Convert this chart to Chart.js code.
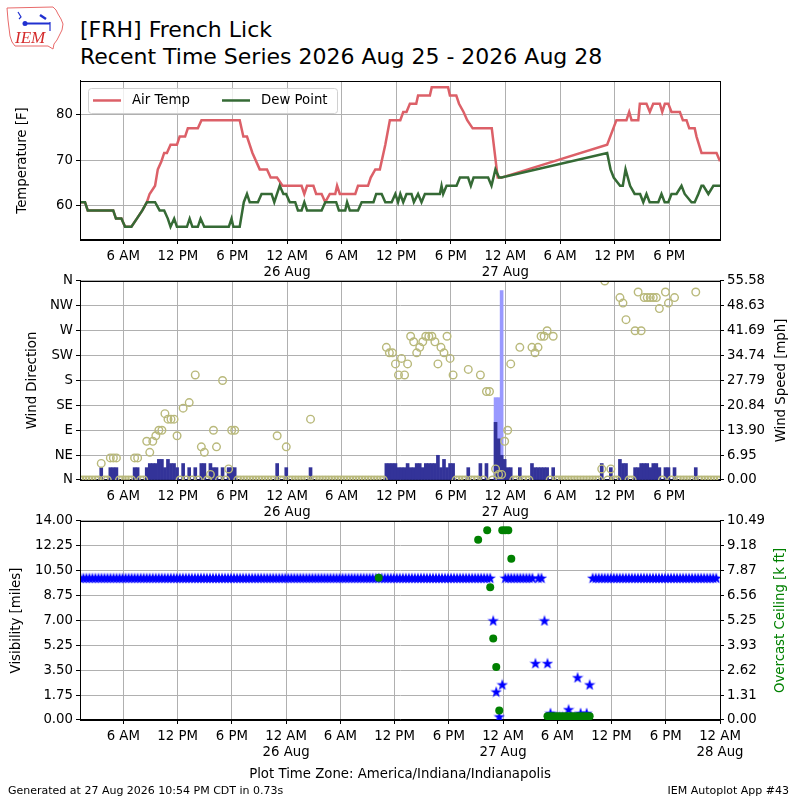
<!DOCTYPE html>
<html>
<head>
<meta charset="utf-8">
<title>FRH recent time series</title>
<script src="https://cdn.jsdelivr.net/npm/chart.js@4.4.1/dist/chart.umd.min.js"></script>
<style>
  html, body { margin: 0; padding: 0; background: #fff; }
  body { width: 800px; height: 800px; position: relative; overflow: hidden; font-family: 'DejaVu Sans', sans-serif; color: #000; }
  canvas.panel { position: absolute; left: 0; }
  .txt { position: absolute; white-space: nowrap; }
</style>
</head>
<body>
<canvas id="logo" width="70" height="56" style="position:absolute;left:0;top:0"></canvas>
<div class="txt" style="left:80px;top:19px;font-size:22px;line-height:22px">[FRH] French Lick</div>
<div class="txt" style="left:80px;top:46px;font-size:22px;line-height:22px">Recent Time Series 2026 Aug 25 - 2026 Aug 28</div>
<canvas class="panel" id="tempChart" width="800" height="210" style="top:70px"></canvas>
<canvas class="panel" id="windChart" width="800" height="250" style="top:270px"></canvas>
<canvas class="panel" id="visChart" width="800" height="250" style="top:510px"></canvas>
<div class="txt" style="left:0;width:800px;text-align:center;top:767px;font-size:13.3px;line-height:13.3px">Plot Time Zone: America/Indiana/Indianapolis</div>
<div class="txt" style="left:8px;top:785px;font-size:11px;line-height:11px">Generated at 27 Aug 2026 10:54 PM CDT in 0.73s</div>
<div class="txt" style="right:11px;top:785px;font-size:11px;line-height:11px">IEM Autoplot App #43</div>
<script>
// hours are counted from 25 Aug 2026 00:00 local time
const airTemp = [
  [1.25,60.8],[1.8,60.8],[2.1,59],[4.9,59],[5.2,57.2],[5.8,57.2],[6.2,55.4],[6.9,55.4],[7.5,57.2],[8.1,59],
  [8.6,60.8],[8.9,62.6],[9.5,64.4],[9.8,68],[10.2,69.8],[10.5,71.6],[10.8,71.6],[11.2,73.4],[11.9,73.4],[12.2,75.2],
  [12.8,75.2],[13.1,77],[14.2,77],[14.6,78.8],[18.8,78.8],[19.2,75.2],[19.6,75.2],[20.2,71.6],[21.0,68],[21.8,68],
  [22.2,66.2],[22.9,66.2],[23.5,64.4],[25.6,64.4],[25.9,62.6],[26.2,64.4],[26.9,64.4],[27.2,62.6],[27.8,62.6],[28.2,60.8],
  [28.7,62.6],[29.3,62.6],[29.5,64.4],[29.8,62.6],[31.5,62.6],[31.8,64.4],[32.9,64.4],[33.2,66.2],[33.7,68],[34.2,68],
  [34.8,73.4],[35.3,78.8],[36.45,78.8],[36.77,80.6],[37.13,80.6],[37.5,82.4],[38.2,82.4],[38.4,84.2],[39.7,84.2],[39.9,86],
  [41.7,86],[41.9,84.2],[42.6,84.2],[42.9,82.4],[43.4,80.6],[43.8,78.8],[44.4,77],[46.5,77],[47.15,66.2],[47.57,66.2],
  [59.18,73.4],[60.2,78.8],[61.3,78.8],[61.6,80.6],[61.86,78.8],[62.6,78.8],[62.77,82.4],[63.5,82.4],[63.87,80.6],[64.24,82.4],
  [64.97,82.4],[65.23,80.6],[65.52,82.4],[65.9,82.4],[66.25,80.6],[67.17,80.6],[67.5,78.8],[67.9,78.8],[68.2,77],[68.8,77],
  [69.0,75.2],[69.55,71.6],[71.2,71.6],[71.58,69.8]
];
const dewPoint = [
  [1.25,60.8],[1.8,60.8],[2.1,59],[4.9,59],[5.2,57.2],[5.8,57.2],[6.2,55.4],[6.9,55.4],[7.5,57.2],[8.1,59],
  [8.6,60.8],[9.5,60.8],[10.0,59],[10.5,59],[10.9,57.2],[11.2,55.4],[11.6,57.2],[11.9,55.4],[13.0,55.4],[13.3,57.2],
  [13.6,55.4],[14.2,55.4],[14.5,57.2],[14.9,55.4],[17.6,55.4],[17.9,57.2],[18.1,55.4],[18.8,55.4],[19.25,60.8],[19.6,62.6],
  [19.9,60.8],[20.8,60.8],[21.2,62.6],[22.3,62.6],[22.6,60.8],[22.9,62.6],[23.2,64.4],[23.6,62.6],[23.9,62.6],[24.3,60.8],
  [24.9,60.8],[25.2,59],[25.6,59],[25.9,60.8],[26.2,59],[27.8,59],[28.2,60.8],[29.4,60.8],[29.7,59],[30.4,59],
  [30.6,60.8],[30.9,59],[31.8,59],[32.2,60.8],[33.5,60.8],[33.8,62.6],[34.4,62.6],[34.8,60.8],[35.5,60.8],[35.9,62.6],
  [36.2,60.8],[36.45,62.6],[36.77,60.8],[37.13,62.6],[37.68,62.6],[37.94,60.8],[38.4,62.6],[38.78,60.8],[39.15,62.6],[40.8,62.6],
  [40.98,64.4],[41.16,62.6],[41.53,64.4],[42.63,64.4],[43.0,66.2],[43.9,66.2],[44.2,64.4],[44.5,66.2],[46.1,66.2],[46.47,64.4],
  [46.9,68],[47.3,66.2],[47.57,66.2],
  [59.18,71.6],[59.55,68],[59.9,66.2],[60.6,64.4],[60.9,64.4],[61.2,68],[61.7,64.4],[62.2,62.6],[62.8,62.6],[63.15,60.8],
  [63.5,62.6],[63.85,60.8],[64.8,60.8],[65.15,62.6],[65.5,60.8],[65.9,60.8],[66.25,62.6],[66.8,62.6],[67.35,64.4],[67.7,62.6],
  [68.45,60.8],[68.8,60.8],[69.2,62.6],[69.55,64.4],[69.75,64.4],[70.3,62.6],[70.85,64.4],[71.58,64.4]
];

// AWOS reports every 20 minutes, first one at 01:15 on 25 Aug
const obsStartHour = 1.25;
const obsHour = i => obsStartHour + i / 3;

// wind direction [deg] per report, 0 = calm
const windDir = [
  0,0,0,0,0,0,0,30,0,0,40,40,
  40,0,0,0,0,0,40,40,0,0,70,50,
  70,80,90,90,120,110,110,110,80,0,130,0,
  140,0,190,0,60,50,0,10,90,60,0,180,
  0,20,90,90,0,0,0,0,0,0,0,0,
  0,0,0,0,0,80,0,0,60,0,0,0,
  0,0,0,0,110,0,0,0,0,0,0,0,
  0,0,0,0,0,0,0,0,0,0,0,0,
  0,0,0,0,0,240,230,230,210,190,220,190,
  210,260,250,230,240,250,260,260,260,250,210,240,
  230,260,220,190,0,0,0,0,200,0,0,0,
  190,0,160,160,0,20,10,10,70,90,210,0,
  0,240,0,0,0,240,230,240,260,260,270,0,
  260,0,0,0,0,0,0,0,0,0,0,0,
  0,0,0,0,20,360,0,20,0,0,330,320,
  290,0,0,270,340,270,330,330,330,330,330,310,
  0,340,320,0,330,0,0,0,0,0,0,340,
  0,0,0,0,0,0,0,0
];
// wind speed [mph] per report
const windMph = [
  0,0,0,0,0,0,0,3.45,0,0,3.45,3.45,
  3.45,0,0,0,0,0,3.45,3.45,0,0,3.45,4.6,
  4.6,4.6,5.75,5.75,3.45,5.75,4.6,4.6,3.45,0,4.6,0,
  3.45,0,3.45,0,4.6,4.6,0,4.6,3.45,3.45,0,3.45,
  0,3.45,3.45,3.45,0,0,0,0,0,0,0,0,
  0,0,0,0,0,4.6,0,0,3.45,0,0,0,
  0,0,0,0,3.45,0,0,0,0,0,0,0,
  0,0,0,0,0,0,0,0,0,0,0,0,
  0,0,0,0,0,4.6,4.6,4.6,4.6,3.45,3.45,3.45,
  4.6,3.45,3.45,4.6,4.6,3.45,4.6,4.6,4.6,4.6,6.9,3.45,
  5.75,3.45,4.6,4.6,0,0,0,0,3.45,0,0,0,
  4.6,0,4.6,0,0,16.1,11.5,6.9,5.75,3.45,3.45,0,
  0,3.45,0,0,0,4.6,3.45,3.45,3.45,3.45,3.45,0,
  3.45,0,0,0,0,0,0,0,0,0,0,0,
  0,0,0,0,4.6,0,0,3.45,0,0,5.75,4.6,
  4.6,0,0,3.45,3.45,4.6,4.6,4.6,3.45,4.6,4.6,3.45,
  0,3.45,3.45,0,3.45,0,0,0,0,0,0,3.45,
  0,0,0,0,0,0,0,0
];
// gusts: report index and speed [mph]
const gustIdx = [137, 138, 139];
const gustMph = [23.0, 23.0, 52.9];

// visibility [miles] per report
const visibility = [
  10,10,10,10,10,10,10,10,10,10,10,10,
  10,10,10,10,10,10,10,10,10,10,10,10,
  10,10,10,10,10,10,10,10,10,10,10,10,
  10,10,10,10,10,10,10,10,10,10,10,10,
  10,10,10,10,10,10,10,10,10,10,10,10,
  10,10,10,10,10,10,10,10,10,10,10,10,
  10,10,10,10,10,10,10,10,10,10,10,10,
  10,10,10,10,10,10,10,10,10,10,10,10,
  10,10,10,10,10,10,10,10,10,10,10,10,
  10,10,10,10,10,10,10,10,10,10,10,10,
  10,10,10,10,10,10,10,10,10,10,10,10,
  10,10,10,10,10,7,2,0.25,2.5,10,10,10,
  10,10,10,10,10,10,10,4,10,10,7,4,
  0.5,0.25,0.25,0.25,0.25,0.25,0.75,0.25,0.25,3,0.5,0.25,
  0.5,2.5,10,10,10,10,10,10,10,10,10,10,
  10,10,10,10,10,10,10,10,10,10,10,10,
  10,10,10,10,10,10,10,10,10,10,10,10,
  10,10,10,10,10,10,10,10
];
// overcast ceiling: report index and height [k ft]
const ceilIdx = [99,132,135,136,137,138,139,140,141,142,143,
  155,156,157,158,159,160,161,162,163,164,165,166,167,168,169];
const ceilKft = [7.5,9.5,10.0,7.0,4.3,2.8,0.5,10.0,10.0,10.0,8.5,
  0.2,0.2,0.2,0.2,0.2,0.2,0.2,0.2,0.2,0.2,0.2,0.2,0.2,0.2,0.2];

// axis ticks
const hourTicks = [6,12,18,24,30,36,42,48,54,60,66];
const hourTicksBottom = [6,12,18,24,30,36,42,48,54,60,66,72];
const tempTicks = [60, 70, 80];
const dirLabels = ['N','NE','E','SE','S','SW','W','NW','N'];
const speedTickLabels = ['0.00','6.95','13.90','20.84','27.79','34.74','41.69','48.63','55.58'];
const visTickLabels = ['0.00','1.75','3.50','5.25','7.00','8.75','10.50','12.25','14.00'];
const ceilTickLabels = ['0.00','1.31','2.62','3.93','5.25','6.56','7.87','9.18','10.49'];

const RED = '#dc6068', GREEN = '#356a35', OLIVE = '#b9b97b';
const DARK = '#333399', LIGHT = '#9999ff', GRID = '#b0b0b0';

Chart.defaults.font.family = "'DejaVu Sans', sans-serif";
Chart.defaults.font.size = 13.3;
Chart.defaults.color = '#000';
Chart.defaults.animation = false;
Chart.defaults.plugins.legend.display = false;
Chart.defaults.plugins.tooltip.enabled = false;

function hourLabel(h) {
  const hr = ((h % 24) + 24) % 24;
  if (hr === 0) return ['12 AM', (25 + Math.floor(h / 24)) + ' Aug'];
  if (hr === 12) return '12 PM';
  return hr < 12 ? hr + ' AM' : (hr - 12) + ' PM';
}

function timeAxis(min, max, hours) {
  return {
    type: 'linear', min: min, max: max, offset: false,
    afterBuildTicks: s => { s.ticks = hours.map(v => ({ value: v })); },
    afterFit: s => { s.height = 40; },
    grid: { color: GRID, offset: false, tickColor: '#000', tickLength: 4 },
    border: { color: '#000' },
    ticks: { autoSkip: false, maxRotation: 0, padding: 4.5,
             font: { size: 13.3, lineHeight: 1.22 }, callback: v => hourLabel(v) }
  };
}

function valueAxis(pos, min, max, values, labels, title, titlePad, titleColor) {
  return {
    type: 'linear', position: pos, min: min, max: max,
    afterBuildTicks: s => { s.ticks = values.map(v => ({ value: v })); },
    afterFit: s => { s.width = 80; },
    grid: { color: GRID, tickColor: '#000', tickLength: 4, drawOnChartArea: pos === 'left' },
    border: { color: '#000' },
    ticks: { padding: 3, callback: (v, i) => labels[i] },
    title: { display: pos === 'left', text: title, color: titleColor || '#000',
             font: { size: 13.3 }, padding: { top: titlePad, bottom: 0 } }
  };
}

function evenTicks(max, labels) {
  return labels.map((_, i) => i * max / (labels.length - 1));
}

const frame = {
  id: 'frame',
  afterDraw(chart) {
    const { ctx, chartArea: a } = chart;
    ctx.save();
    ctx.strokeStyle = '#000';
    ctx.lineWidth = 1;
    ctx.strokeRect(Math.round(a.left) + 0.5, Math.round(a.top) + 0.5,
                   Math.round(a.right - a.left), Math.round(a.bottom - a.top));
    ctx.restore();
  }
};

// right-hand axis titles read bottom to top, like the left ones
function rightTitle(text, x, color) {
  return {
    id: 'rightTitle',
    afterDraw(chart) {
      const { ctx, chartArea: a } = chart;
      ctx.save();
      ctx.translate(x, (a.top + a.bottom) / 2);
      ctx.rotate(-Math.PI / 2);
      ctx.fillStyle = color;
      ctx.font = "13.3px 'DejaVu Sans', sans-serif";
      ctx.textAlign = 'center';
      ctx.textBaseline = 'middle';
      ctx.fillText(text, 0, 0);
      ctx.restore();
    }
  };
}

// legend inside the temperature panel, upper left
const legendBox = {
  id: 'legendBox',
  afterDatasetsDraw(chart) {
    const { ctx, chartArea: a } = chart;
    const x = a.left + 8, y = a.top + 7, w = 249, h = 25;
    ctx.save();
    ctx.fillStyle = 'rgba(255,255,255,0.8)';
    ctx.strokeStyle = '#d0d0d0';
    ctx.lineWidth = 1;
    ctx.beginPath();
    ctx.roundRect(x + 0.5, y + 0.5, w, h, 3);
    ctx.fill();
    ctx.stroke();
    const offsets = [5, 134];
    chart.data.datasets.forEach((ds, i) => {
      const lx = x + offsets[i];
      ctx.strokeStyle = ds.borderColor;
      ctx.lineWidth = 2.5;
      ctx.beginPath();
      ctx.moveTo(lx, y + 12.5);
      ctx.lineTo(lx + 28, y + 12.5);
      ctx.stroke();
      ctx.fillStyle = '#000';
      ctx.font = "13.3px 'DejaVu Sans', sans-serif";
      ctx.textBaseline = 'middle';
      ctx.fillText(ds.label, lx + 39, y + 13);
    });
    ctx.restore();
  }
};

function makeStar(size, color) {
  const c = document.createElement('canvas');
  c.width = size; c.height = size;
  const g = c.getContext('2d');
  g.fillStyle = color;
  g.beginPath();
  for (let i = 0; i < 10; i++) {
    const r = i % 2 ? size * 0.2 : size / 2;
    const ang = -Math.PI / 2 + i * Math.PI / 5;
    g.lineTo(size / 2 + r * Math.cos(ang), size / 2 + 0.6 + r * Math.sin(ang));
  }
  g.closePath();
  g.fill();
  return c;
}

// IEM logo
(function () {
  const g = document.getElementById('logo').getContext('2d');
  const outline = [[7,8],[53,7],[56,10],[58,14],[61,19],[63,24],[62,30],[60,34],[57,40],[54,44],
                   [53,49],[48,46],[15,46],[12,42],[10,36],[9,28],[8,20],[7,8]];
  g.strokeStyle = '#e86a6a';
  g.lineWidth = 1;
  g.beginPath();
  outline.forEach(([px, py], i) => i ? g.lineTo(px, py) : g.moveTo(px, py));
  g.stroke();
  g.fillStyle = '#d42a2a';
  g.font = "italic 17px 'Liberation Serif', serif";
  g.fillText('IEM', 15, 43);
  g.strokeStyle = '#2030d0';
  g.fillStyle = '#2030d0';
  g.lineWidth = 2;
  g.beginPath(); g.moveTo(25, 23.5); g.lineTo(50, 23.5); g.stroke();
  g.beginPath(); g.arc(25, 23.5, 2.5, 0, Math.PI * 2); g.fill();
  g.lineWidth = 2.5;
  g.beginPath(); g.moveTo(40, 15); g.lineTo(46, 19); g.stroke();
  g.lineWidth = 1.2;
  g.beginPath(); g.moveTo(18, 12); g.lineTo(21, 17); g.lineTo(19, 19); g.stroke();
  g.beginPath(); g.moveTo(50, 22); g.lineTo(50, 31); g.stroke();
})();

new Chart(document.getElementById('tempChart'), {
  type: 'line',
  data: {
    datasets: [
      { label: 'Air Temp', data: airTemp.map(([x, y]) => ({ x, y })), borderColor: RED,
        borderWidth: 2.5, pointRadius: 0, order: 2 },
      { label: 'Dew Point', data: dewPoint.map(([x, y]) => ({ x, y })), borderColor: GREEN,
        borderWidth: 2.5, pointRadius: 0, order: 1 }
    ]
  },
  options: {
    responsive: false,
    layout: { padding: { top: 10, right: 80, left: 0, bottom: 0 }, autoPadding: false },
    scales: {
      x: timeAxis(1.25, 71.58, hourTicks),
      y: valueAxis('left', 52.5, 87.4, tempTicks, tempTicks.map(String), 'Temperature [F]', 14.7)
    }
  },
  plugins: [frame, legendBox]
});

new Chart(document.getElementById('windChart'), {
  type: 'bar',
  data: {
    datasets: [
      { type: 'line', label: 'Wind Direction', data: windDir.map((d, i) => ({ x: obsHour(i), y: d })),
        yAxisID: 'yDir', showLine: false, pointStyle: 'circle', pointRadius: 3.8, pointBorderWidth: 1.4,
        pointBorderColor: OLIVE, pointBackgroundColor: 'rgba(0,0,0,0)', order: 0 },
      { label: 'Wind Speed', data: windMph.map((s, i) => ({ x: obsHour(i), y: s })),
        yAxisID: 'ySpeed', backgroundColor: DARK, borderWidth: 0, barThickness: 3, grouped: false, order: 1 },
      { label: 'Gust', data: gustIdx.map((k, j) => ({ x: obsHour(k), y: gustMph[j] })),
        yAxisID: 'ySpeed', backgroundColor: LIGHT, borderWidth: 0, barThickness: 3, grouped: false, order: 2 }
    ]
  },
  options: {
    responsive: false,
    layout: { padding: { top: 10, right: 0, left: 0, bottom: 0 }, autoPadding: false },
    scales: {
      x: timeAxis(1.25, 71.58, hourTicks),
      yDir: valueAxis('left', 0, 360, evenTicks(360, dirLabels), dirLabels, 'Wind Direction', 25),
      ySpeed: valueAxis('right', 0, 55.58, evenTicks(55.58, speedTickLabels), speedTickLabels, 'Wind Speed [mph]')
    }
  },
  plugins: [frame, rightTitle('Wind Speed [mph]', 782, '#000')]
});

new Chart(document.getElementById('visChart'), {
  type: 'scatter',
  data: {
    datasets: [
      { label: 'Visibility', data: visibility.map((v, i) => ({ x: obsHour(i), y: v })),
        yAxisID: 'yVis', pointStyle: makeStar(12, '#0000ff'), pointRadius: 6, order: 1 },
      { label: 'Overcast Ceiling', data: ceilIdx.map((k, j) => ({ x: obsHour(k), y: ceilKft[j] })),
        yAxisID: 'yCeil', pointStyle: 'circle', pointRadius: 4, pointBorderWidth: 0,
        pointBackgroundColor: '#008000', pointBorderColor: '#008000', order: 0 }
    ]
  },
  options: {
    responsive: false,
    layout: { padding: { top: 10, right: 0, left: 0, bottom: 0 }, autoPadding: false },
    scales: {
      x: timeAxis(1.21, 72, hourTicksBottom),
      yVis: valueAxis('left', 0, 14, evenTicks(14, visTickLabels), visTickLabels, 'Visibility [miles]', 8.7),
      yCeil: valueAxis('right', 0, 10.49, evenTicks(10.49, ceilTickLabels), ceilTickLabels, 'Overcast Ceiling [k ft]')
    }
  },
  plugins: [frame, rightTitle('Overcast Ceiling [k ft]', 781, '#008000')]
});
</script>
</body>
</html>
